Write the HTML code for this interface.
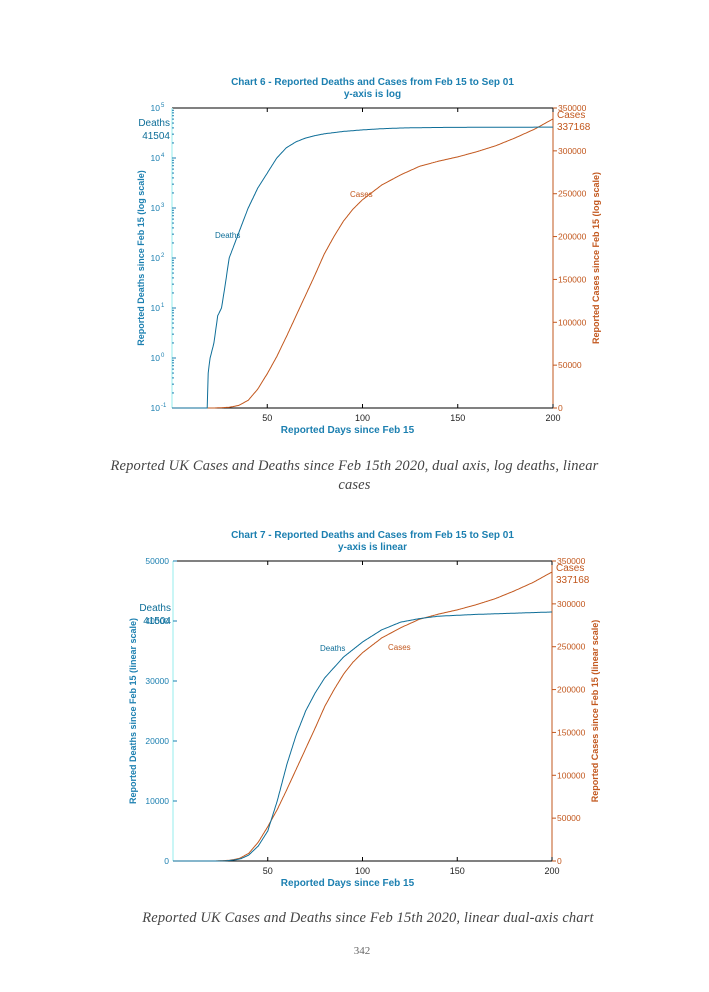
<!DOCTYPE html>
<html><head><meta charset="utf-8">
<style>
html,body{margin:0;padding:0;background:#fff;}
svg{display:block;}
.t{font-family:"Liberation Sans",sans-serif;}
.cap{font-family:"Liberation Serif",serif;font-style:italic;font-size:14.5px;fill:#444;letter-spacing:0.15px;}
</style></head>
<body>
<svg id="s" width="709" height="992" viewBox="0 0 709 992" xmlns="http://www.w3.org/2000/svg">
<text class="cap" x="354.5" y="470" text-anchor="middle">Reported UK Cases and Deaths since Feb 15th 2020, dual axis, log deaths, linear</text>
<text class="cap" x="354.5" y="489" text-anchor="middle">cases</text>
<text class="cap" x="368" y="922" text-anchor="middle">Reported UK Cases and Deaths since Feb 15th 2020, linear dual-axis chart</text>
<text x="362" y="954" text-anchor="middle" style="font-family:'Liberation Serif',serif;font-size:11px;fill:#666">342</text>
</svg>
<script>
var NS="http://www.w3.org/2000/svg",S=document.getElementById('s');
function el(n,a,t){var e=document.createElementNS(NS,n);for(var k in a)e.setAttribute(k,a[k]);if(t!=null)e.textContent=t;S.appendChild(e);return e;}
var B="#0e6e98",O="#c2571d",LB="#1b7fb0";
var D=[[0,0],[18,0],[18.5,0.1],[19,0.5],[20,1],[22,2],[24,7],[26,10],[28,30],[30,100],[33,200],[36,400],[40,1000],[45,2500],[50,5000],[55,10000],[60,16000],[65,21000],[70,25000],[75,28000],[80,30500],[90,34000],[100,36500],[110,38500],[120,39800],[130,40400],[140,40800],[160,41100],[180,41300],[200,41504]];
var C=[[0,0],[22,0],[30,800],[35,3000],[40,9000],[45,22000],[50,40000],[55,60000],[60,83000],[65,107000],[70,131000],[75,155000],[80,180000],[85,200000],[90,218000],[95,232000],[100,243000],[110,260000],[120,272000],[130,282000],[140,288000],[150,293000],[160,299000],[170,306000],[180,315000],[190,325000],[200,337168]];
function interp(P,d,lg){for(var i=1;i<P.length;i++){if(d<=P[i][0]){var a=P[i-1],b=P[i],f=(d-a[0])/(b[0]-a[0]);
 if(lg&&a[1]>0&&b[1]>0)return Math.exp(Math.log(a[1])+f*(Math.log(b[1])-Math.log(a[1])));return a[1]+f*(b[1]-a[1]);}}return P[P.length-1][1];}
function chart(L,R,T,Bt,log,title1,title2){
 var xs=function(d){return L+(R-L)*d/200;};
 var W=R-L,H=Bt-T;
 el('text',{x:(L+R)/2+10,y:T-23,'text-anchor':'middle','class':'t','font-size':'10','font-weight':'bold',fill:LB},title1);
 el('text',{x:(L+R)/2+10,y:T-11,'text-anchor':'middle','class':'t','font-size':'10','font-weight':'bold',fill:LB},title2);
 el('line',{x1:L,y1:T,x2:R,y2:T,stroke:'#000','stroke-width':1});
 el('line',{x1:L,y1:Bt,x2:R,y2:Bt,stroke:'#000','stroke-width':1});
 el('line',{x1:L,y1:T,x2:L,y2:Bt,stroke:'#b8f4f4','stroke-width':1.5});
 el('line',{x1:R,y1:T,x2:R,y2:Bt,stroke:O,'stroke-width':1});
 [50,100,150,200].forEach(function(d){var x=xs(d);
  el('line',{x1:x,y1:Bt,x2:x,y2:Bt-4,stroke:'#000'});el('line',{x1:x,y1:T,x2:x,y2:T+4,stroke:'#000'});
  el('text',{x:x,y:Bt+13,'text-anchor':'middle','class':'t','font-size':'9',fill:'#222'},d);});
 el('text',{x:(L+R)/2-15,y:Bt+25,'text-anchor':'middle','class':'t','font-size':'10','font-weight':'bold',fill:LB},'Reported Days since Feb 15');
 for(var c=0;c<=350000;c+=50000){var y=Bt-H*c/350000;
  el('line',{x1:R,y1:y,x2:R+4,y2:y,stroke:O});
  el('text',{x:R+5,y:y+3,'class':'t','font-size':'8.5',fill:O},c);}
 el('text',{transform:'translate('+(R+46)+','+(T+H/2)+') rotate(-90)','text-anchor':'middle','class':'t','font-size':'9','font-weight':'bold',fill:O},log?'Reported Cases since Feb 15 (log scale)':'Reported Cases since Feb 15 (linear scale)');
 var yD;
 if(log){yD=function(v){v=Math.max(v,0.1);return Bt-(Math.log10(v)+1)*H/6;};
  for(var e=-1;e<=5;e++){var y=yD(Math.pow(10,e));
   el('text',{x:L-12,y:y+3,'text-anchor':'end','class':'t','font-size':'8.5',fill:LB},'10');
   el('text',{x:L-11,y:y-1,'class':'t','font-size':'6',fill:LB},e);
   for(var m=1;m<10&&e<5;m++){var yy=yD(m*Math.pow(10,e));el('line',{x1:L,y1:yy,x2:L+(m==1?4:2),y2:yy,stroke:LB});}}
  el('text',{transform:'translate('+(L-28)+','+(T+H/2)+') rotate(-90)','text-anchor':'middle','class':'t','font-size':'9','font-weight':'bold',fill:LB},'Reported Deaths since Feb 15 (log scale)');
 } else {yD=function(v){return Bt-H*v/50000;};
  for(var v=0;v<=50000;v+=10000){var y=yD(v);el('line',{x1:L,y1:y,x2:L+4,y2:y,stroke:LB});
   el('text',{x:L-4,y:y+3,'text-anchor':'end','class':'t','font-size':'8.5',fill:LB},v);}
  el('text',{transform:'translate('+(L-37)+','+(T+H/2)+') rotate(-90)','text-anchor':'middle','class':'t','font-size':'9','font-weight':'bold',fill:LB},'Reported Deaths since Feb 15 (linear scale)');}
 var pd='',pc='';
 for(var d=0;d<=200;d+=0.5){var x=xs(d).toFixed(1);
  pd+=(d?'L':'M')+x+' '+yD(interp(D,d,log)).toFixed(1);
  pc+=(d?'L':'M')+x+' '+(Bt-H*interp(C,d,false)/350000).toFixed(1);}
 el('path',{d:pc,fill:'none',stroke:O,'stroke-width':1});
 el('path',{d:pd,fill:'none',stroke:B,'stroke-width':1});
 var y41=yD(41504);
 el('text',{x:L-2,y:y41-1,'text-anchor':'end','class':'t','font-size':'10',fill:B},'Deaths');
 el('text',{x:L-2,y:y41+12,'text-anchor':'end','class':'t','font-size':'10',fill:B},'41504');
 var yc=Bt-H*337168/350000;
 el('text',{x:R+4,y:yc-1,'class':'t','font-size':'10',fill:O},'Cases');
 el('text',{x:R+4,y:yc+11,'class':'t','font-size':'10',fill:O},'337168');
 return yD;}
chart(172,553,108,408,true,'Chart 6 - Reported Deaths and Cases from Feb 15 to Sep 01','y-axis is log');
el('text',{x:215,y:238,'class':'t','font-size':'8',fill:B},'Deaths');
el('text',{x:350,y:197,'class':'t','font-size':'8',fill:O},'Cases');
chart(173,552,561,861,false,'Chart 7 - Reported Deaths and Cases from Feb 15 to Sep 01','y-axis is linear');
el('text',{x:320,y:651,'class':'t','font-size':'8',fill:B},'Deaths');
el('text',{x:388,y:650,'class':'t','font-size':'8',fill:O},'Cases');
</script>
</body></html>
